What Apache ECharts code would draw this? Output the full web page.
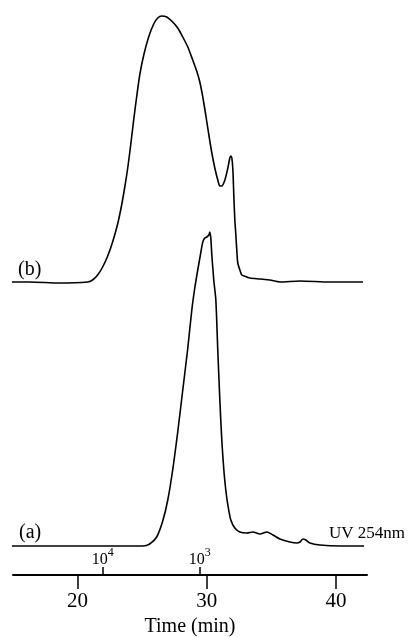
<!DOCTYPE html>
<html>
<head>
<meta charset="utf-8">
<script src="https://cdn.jsdelivr.net/npm/echarts@6/dist/echarts.min.js"></script>
<style>html,body{margin:0;padding:0;background:#fff}#c{width:417px;height:637px}</style>
</head>
<body>
<div id="c"></div>
<script>
// Time (min) and detector signal (arbitrary units) for trace (a)
var timeA = [14.57,25.04,25.58,26.12,26.59,26.98,27.36,27.75,28.14,28.53,28.84,29.07,29.30,29.53,29.69,29.84,30.00,30.16,30.23,30.31,30.39,30.54,30.70,30.85,31.01,31.16,31.32,31.47,31.63,31.86,32.17,32.56,33.10,33.57,34.11,34.65,35.12,35.66,36.43,36.98,37.21,37.44,37.67,37.98,38.76,40.31,42.17];
var signalA = [29,29,31,38,54,75,105,143,185,227,265,287,305,322,333,337,338,340,343,337,320,295,275,225,175,135,105,85,70,55,47,43,42,43,41,43,40,36,33,32,33,36,35,32,30,29,29];
// Trace (b), offset upward
var timeB = [14.57,16.28,18.60,20.78,21.16,21.55,21.94,22.33,22.71,23.10,23.41,23.64,23.88,24.11,24.34,24.57,24.81,25.12,25.50,25.89,26.20,26.51,26.90,27.36,27.75,28.14,28.53,28.91,29.22,29.46,29.69,29.92,30.16,30.39,30.62,30.85,31.01,31.16,31.40,31.63,31.78,31.86,31.94,32.02,32.09,32.17,32.25,32.33,32.40,32.56,32.71,33.10,33.33,34.11,34.88,35.66,37.21,39.53,42.09];
var signalB = [293,293,292,293,295,300,308,319,333,351,370,387,407,430,455,478,500,520,538,551,557,559,558,553,547,538,528,515,504,493,478,460,440,422,407,395,389,389,395,407,417,419,417,405,380,355,340,323,312,305,300,298,297,296,295,293,294,293,293];
// Axis ticks
var timeTicks = [20, 30, 40];
var mwTimes = [21.94, 29.46];
var mwExponents = ['4', '3'];

function pairs(t, v) { return t.map(function (x, i) { return [x, v[i]]; }); }

var chart = echarts.init(document.getElementById('c'), null, {renderer: 'canvas'});
var serif = 'Liberation Serif';
chart.setOption({
  animation: false,
  backgroundColor: '#fff',
  grid: {left: 13, width: 354, top: 0, bottom: 62, containLabel: false, outerBoundsMode: 'none'},
  xAxis: [{
    type: 'value', min: 15, max: 42.4, position: 'bottom',
    axisLine: {show: true, lineStyle: {color: '#000', width: 2}},
    axisTick: {show: true, customValues: timeTicks, length: 14, lineStyle: {color: '#000', width: 1.5}},
    axisLabel: {customValues: timeTicks, margin: 16, color: '#000', fontFamily: serif, fontSize: 21},
    splitLine: {show: false},
    name: 'Time (min)', nameLocation: 'middle', nameGap: 42,
    nameTextStyle: {color: '#000', fontFamily: serif, fontSize: 20}
  }, {
    type: 'value', min: 15, max: 42.4, position: 'bottom',
    axisLine: {show: false},
    axisTick: {show: true, inside: true, customValues: mwTimes, length: 8, lineStyle: {color: '#000', width: 1.5}},
    axisLabel: {
      inside: true, customValues: mwTimes, margin: 7, color: '#000',
      formatter: function (v) {
        var i = mwTimes.indexOf(v);
        return '{b|10}{s|' + (i >= 0 ? mwExponents[i] : '') + '}';
      },
      rich: {
        b: {fontFamily: serif, fontSize: 16, color: '#000', verticalAlign: 'bottom'},
        s: {fontFamily: serif, fontSize: 12, color: '#000', verticalAlign: 'top', padding: [0, 0, 9, 0]}
      }
    },
    splitLine: {show: false}
  }],
  yAxis: {type: 'value', min: 0, max: 575, show: false},
  series: [{
    type: 'line', xAxisIndex: 0, data: pairs(timeA, signalA), showSymbol: false, clip: false,
    smooth: 0.25, lineStyle: {color: '#000', width: 1.6}
  }, {
    type: 'line', xAxisIndex: 0, data: pairs(timeB, signalB), showSymbol: false, clip: false,
    smooth: 0.25, lineStyle: {color: '#000', width: 1.6}
  }],
  graphic: [
    {type: 'text', left: 19, top: 523, style: {text: '(a)', font: '20px "Liberation Serif"', fill: '#000'}},
    {type: 'text', left: 18, top: 260, style: {text: '(b)', font: '20px "Liberation Serif"', fill: '#000'}},
    {type: 'text', left: 329, top: 525, style: {text: 'UV 254nm', font: '17px "Liberation Serif"', fill: '#000'}}
  ]
});
</script>
</body>
</html>
